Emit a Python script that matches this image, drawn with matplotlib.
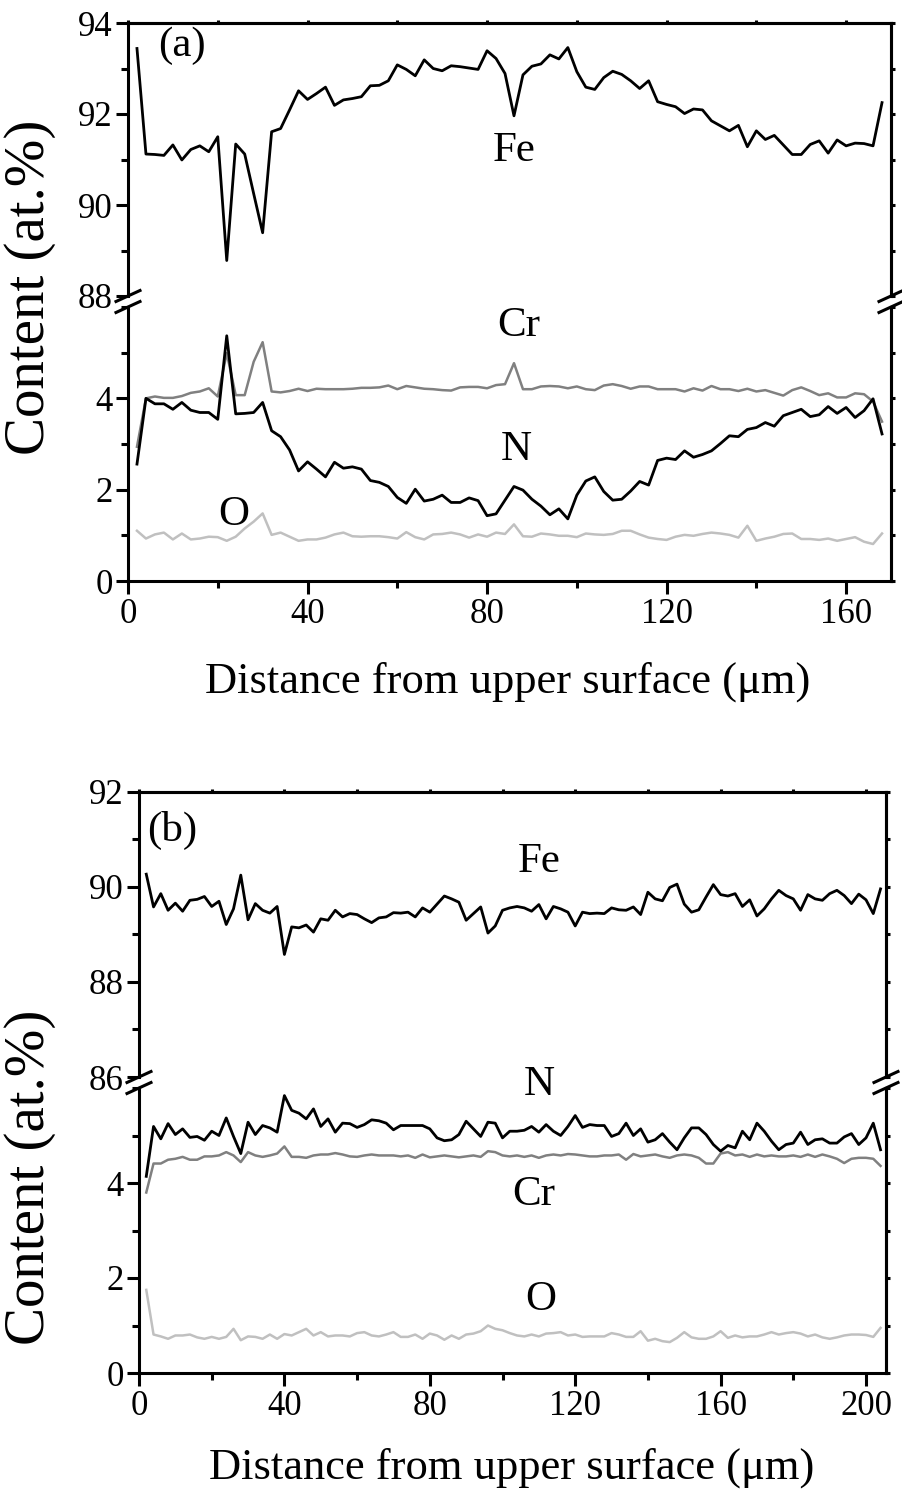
import numpy as np
import matplotlib
matplotlib.use('Agg')
from matplotlib import pyplot as plt
from matplotlib.lines import Line2D
from matplotlib.ticker import MultipleLocator

plt.rcParams['font.family'] = ['Liberation Serif', 'DejaVu Serif']

# ---- panel (a): line scan, 2 um steps ----
dist_a = np.arange(2, 169, 2)
fe_a = [93.44, 91.12, 91.11, 91.09, 91.32, 90.99, 91.22, 91.30, 91.17, 91.50,
        88.78, 91.34, 91.12, 90.25, 89.39, 91.61, 91.68, 92.09, 92.51, 92.32,
        92.45, 92.59, 92.19, 92.31, 92.34, 92.38, 92.62, 92.63, 92.73, 93.08,
        92.98, 92.84, 93.19, 93.00, 92.95, 93.06, 93.04, 93.01, 92.98, 93.39,
        93.22, 92.89, 91.96, 92.86, 93.05, 93.10, 93.30, 93.21, 93.46, 92.93,
        92.59, 92.54, 92.80, 92.94, 92.87, 92.73, 92.56, 92.73, 92.27, 92.21,
        92.16, 92.01, 92.11, 92.09, 91.85, 91.74, 91.63, 91.75, 91.28, 91.63,
        91.44, 91.53, 91.32, 91.11, 91.11, 91.33, 91.41, 91.14, 91.43, 91.30,
        91.36, 91.35, 91.30, 92.25]
cr_a = [2.94, 4.00, 4.04, 4.01, 4.01, 4.05, 4.12, 4.15, 4.22, 4.04,
        4.99, 4.07, 4.07, 4.80, 5.23, 4.15, 4.13, 4.16, 4.21, 4.16,
        4.21, 4.20, 4.20, 4.20, 4.21, 4.23, 4.23, 4.24, 4.28, 4.20,
        4.27, 4.24, 4.21, 4.20, 4.18, 4.17, 4.24, 4.25, 4.25, 4.22,
        4.29, 4.31, 4.77, 4.20, 4.20, 4.26, 4.27, 4.26, 4.22, 4.26,
        4.20, 4.18, 4.28, 4.31, 4.27, 4.21, 4.26, 4.26, 4.20, 4.20,
        4.20, 4.15, 4.22, 4.17, 4.27, 4.20, 4.20, 4.16, 4.21, 4.15,
        4.18, 4.12, 4.06, 4.18, 4.24, 4.16, 4.07, 4.11, 4.02, 4.02,
        4.11, 4.09, 3.93, 3.49]
n_a = [2.56, 4.00, 3.88, 3.88, 3.76, 3.91, 3.74, 3.69, 3.69, 3.54,
       5.37, 3.66, 3.67, 3.69, 3.91, 3.29, 3.16, 2.87, 2.41, 2.61,
       2.45, 2.28, 2.60, 2.47, 2.50, 2.45, 2.20, 2.16, 2.07, 1.83,
       1.70, 2.01, 1.75, 1.79, 1.88, 1.72, 1.72, 1.82, 1.76, 1.43,
       1.47, 1.77, 2.07, 1.99, 1.79, 1.64, 1.45, 1.58, 1.36, 1.88,
       2.19, 2.28, 1.96, 1.77, 1.79, 1.97, 2.18, 2.10, 2.64, 2.69,
       2.66, 2.85, 2.71, 2.77, 2.85, 3.01, 3.18, 3.16, 3.32, 3.36,
       3.47, 3.39, 3.62, 3.69, 3.76, 3.60, 3.64, 3.82, 3.67, 3.80,
       3.58, 3.73, 3.99, 3.22]
o_a = [1.10, 0.93, 1.02, 1.06, 0.91, 1.04, 0.91, 0.93, 0.97, 0.96,
       0.88, 0.97, 1.15, 1.30, 1.48, 1.01, 1.06, 0.97, 0.88, 0.91,
       0.91, 0.95, 1.02, 1.06, 0.98, 0.97, 0.98, 0.98, 0.96, 0.93,
       1.07, 0.96, 0.91, 1.02, 1.03, 1.06, 1.02, 0.95, 1.02, 0.97,
       1.06, 1.03, 1.24, 0.98, 0.97, 1.04, 1.02, 0.99, 0.99, 0.96,
       1.04, 1.02, 1.01, 1.03, 1.10, 1.10, 1.02, 0.95, 0.92, 0.90,
       0.97, 1.01, 0.99, 1.03, 1.06, 1.04, 1.01, 0.95, 1.21, 0.88,
       0.93, 0.97, 1.03, 1.04, 0.92, 0.92, 0.90, 0.93, 0.88, 0.92,
       0.96, 0.86, 0.81, 1.04]

# ---- panel (b) ----
dist_b = np.arange(2, 205, 2)
fe_b = [90.27, 89.58, 89.86, 89.51, 89.66, 89.49, 89.72, 89.74, 89.80, 89.59,
        89.70, 89.21, 89.54, 90.25, 89.31, 89.65, 89.51, 89.45, 89.59, 88.58,
        89.16, 89.14, 89.20, 89.05, 89.33, 89.30, 89.51, 89.37, 89.44, 89.42,
        89.33, 89.25, 89.35, 89.37, 89.46, 89.45, 89.47, 89.37, 89.56, 89.47,
        89.64, 89.81, 89.75, 89.68, 89.30, 89.44, 89.58, 89.03, 89.18,
        89.51, 89.56, 89.59, 89.56, 89.49, 89.63, 89.33, 89.59, 89.54, 89.47,
        89.18, 89.47, 89.44, 89.45, 89.44, 89.56, 89.52, 89.51, 89.58, 89.42,
        89.89, 89.75, 89.71, 89.99, 90.06, 89.64, 89.47, 89.52, 89.79, 90.05,
        89.84, 89.81, 89.86, 89.59, 89.73, 89.39, 89.54, 89.75, 89.93, 89.82,
        89.75, 89.51, 89.84, 89.75, 89.72, 89.86, 89.93, 89.82, 89.65, 89.85,
        89.73, 89.44, 89.96]
n_b = [4.14, 5.19, 4.93, 5.25, 5.02, 5.14, 4.96, 4.98, 4.90, 5.09,
       5.00, 5.37, 4.98, 4.62, 5.28, 5.02, 5.21, 5.16, 5.07, 5.84,
       5.53, 5.47, 5.35, 5.56, 5.19, 5.35, 5.07, 5.26, 5.25, 5.17,
       5.23, 5.33, 5.31, 5.26, 5.12, 5.21, 5.21, 5.21, 5.21, 5.14,
       4.95, 4.89, 4.91, 5.02, 5.30, 5.14, 4.98, 5.28, 5.26,
       4.95, 5.09, 5.09, 5.11, 5.19, 5.07, 5.23, 5.09, 5.00, 5.19,
       5.42, 5.17, 5.23, 5.21, 5.21, 4.98, 5.04, 5.26, 5.00, 5.14,
       4.86, 4.91, 5.04, 4.86, 4.70, 4.95, 5.16, 5.16, 5.02, 4.81,
       4.67, 4.79, 4.74, 5.09, 4.91, 5.26, 5.09, 4.88, 4.70, 4.81,
       4.84, 5.07, 4.81, 4.91, 4.93, 4.84, 4.84, 4.97, 5.04, 4.81,
       4.95, 5.26, 4.70]
cr_b = [3.80, 4.41, 4.41, 4.49, 4.51, 4.55, 4.49, 4.49, 4.56, 4.56,
        4.58, 4.65, 4.58, 4.44, 4.65, 4.58, 4.55, 4.58, 4.62, 4.77,
        4.55, 4.55, 4.53, 4.58, 4.60, 4.60, 4.63, 4.60, 4.56, 4.55,
        4.58, 4.60, 4.58, 4.58, 4.58, 4.56, 4.58, 4.53, 4.60, 4.54,
        4.56, 4.58, 4.56, 4.54, 4.56, 4.58, 4.55, 4.67, 4.65,
        4.58, 4.56, 4.58, 4.55, 4.58, 4.53, 4.58, 4.60, 4.58, 4.61,
        4.60, 4.58, 4.56, 4.56, 4.58, 4.58, 4.60, 4.49, 4.61, 4.56,
        4.58, 4.60, 4.56, 4.53, 4.58, 4.60, 4.58, 4.53, 4.41, 4.41,
        4.62, 4.65, 4.58, 4.60, 4.55, 4.60, 4.56, 4.58, 4.56, 4.56,
        4.58, 4.55, 4.60, 4.55, 4.60, 4.56, 4.51, 4.42, 4.51, 4.53,
        4.53, 4.51, 4.36]
o_b = [1.75, 0.81, 0.77, 0.72, 0.79, 0.79, 0.81, 0.75, 0.72, 0.76,
       0.72, 0.76, 0.93, 0.69, 0.77, 0.76, 0.72, 0.81, 0.72, 0.82,
       0.79, 0.86, 0.93, 0.79, 0.86, 0.77, 0.79, 0.79, 0.77, 0.84,
       0.86, 0.79, 0.77, 0.81, 0.86, 0.76, 0.76, 0.81, 0.72, 0.83,
       0.79, 0.70, 0.79, 0.72, 0.81, 0.83, 0.88, 1.00, 0.93,
       0.90, 0.84, 0.79, 0.77, 0.81, 0.77, 0.83, 0.84, 0.86, 0.79,
       0.81, 0.76, 0.77, 0.77, 0.77, 0.84, 0.81, 0.76, 0.76, 0.88,
       0.68, 0.72, 0.67, 0.65, 0.74, 0.86, 0.75, 0.72, 0.72, 0.77,
       0.88, 0.74, 0.79, 0.75, 0.77, 0.77, 0.81, 0.86, 0.81, 0.84,
       0.86, 0.83, 0.77, 0.81, 0.75, 0.72, 0.75, 0.79, 0.81, 0.81,
       0.80, 0.76, 0.95]

W, H = 902, 1506
LW_SPINE = 2.2
TICK_FS = 25
ELEM_FS = 31


def px_box(left, top, right, bottom):
    # pixel box (from top-left) -> figure fraction rect
    return [left / W, 1 - bottom / H, (right - left) / W, (bottom - top) / H]


def style_axis(ax, top_part):
    for side in ['left', 'right', 'top', 'bottom']:
        ax.spines[side].set_linewidth(LW_SPINE)
    if top_part:
        ax.spines['bottom'].set_visible(False)
        ax.tick_params(axis='x', which='both', bottom=False, labelbottom=False)
    else:
        ax.spines['top'].set_visible(False)
    ax.tick_params(which='major', direction='out', length=9, width=LW_SPINE,
                   labelsize=TICK_FS, pad=3)
    ax.tick_params(which='minor', direction='out', length=5, width=LW_SPINE)
    ax.tick_params(axis='y', right=False, pad=2)
    # small ticks on the right spine
    sec = ax.secondary_yaxis('right')
    sec.yaxis.set_major_locator(MultipleLocator(1))
    sec.tick_params(direction='out', length=3, width=LW_SPINE, labelright=False)
    sec.spines['right'].set_linewidth(LW_SPINE)
    if top_part:
        sect = ax.secondary_xaxis('top')
        sect.xaxis.set_major_locator(MultipleLocator(20))
        sect.tick_params(direction='out', length=2, width=LW_SPINE, labeltop=False)
        sect.spines['top'].set_linewidth(LW_SPINE)


def add_breaks(fig, ax_up, ax_lo):
    for x in [ax_up.get_position().x0, ax_up.get_position().x1]:
        for y in [ax_up.get_position().y0, ax_lo.get_position().y1]:
            dx, dy = 12 / W, 5.5 / H
            fig.add_artist(Line2D([x - dx, x + dx], [y - dy, y + dy], color='black',
                                  lw=2.2, transform=fig.transFigure, clip_on=False))


fig = plt.figure(figsize=(W / 100, H / 100), dpi=100)

# panel (a)
ax_a_up = fig.add_axes(px_box(128, 23, 891, 296))
ax_a_lo = fig.add_axes(px_box(128, 307, 891, 581))
ax_a_up.plot(dist_a, fe_a, color='black', lw=2.0)
ax_a_lo.plot(dist_a, cr_a, color='#808080', lw=1.8)
ax_a_lo.plot(dist_a, n_a, color='black', lw=2.0)
ax_a_lo.plot(dist_a, o_a, color='#c0c0c0', lw=1.8)
for ax in (ax_a_up, ax_a_lo):
    ax.set_xlim(0, 170)
    ax.xaxis.set_major_locator(MultipleLocator(40))
    ax.xaxis.set_minor_locator(MultipleLocator(20))
    ax.yaxis.set_minor_locator(MultipleLocator(1))
ax_a_up.set_ylim(88, 94)
ax_a_up.set_yticks([88, 90, 92, 94])
ax_a_lo.set_ylim(0, 6)
ax_a_lo.set_yticks([0, 2, 4])
style_axis(ax_a_up, True)
style_axis(ax_a_lo, False)
add_breaks(fig, ax_a_up, ax_a_lo)

ax_a_up.text(12, 93.5, '(a)', fontsize=ELEM_FS, ha='center', va='center')
ax_a_up.text(86, 91.2, 'Fe', fontsize=ELEM_FS, ha='center', va='center')
ax_a_lo.text(87, 5.6, 'Cr', fontsize=ELEM_FS, ha='center', va='center')
ax_a_lo.text(86.5, 2.87, 'N', fontsize=ELEM_FS, ha='center', va='center')
ax_a_lo.text(23.5, 1.44, 'O', fontsize=ELEM_FS, ha='center', va='center')

# panel (b)
ax_b_up = fig.add_axes(px_box(139, 792, 886, 1077))
ax_b_lo = fig.add_axes(px_box(139, 1088, 886, 1373))
ax_b_up.plot(dist_b, fe_b, color='black', lw=2.0)
ax_b_lo.plot(dist_b, cr_b, color='#808080', lw=1.8)
ax_b_lo.plot(dist_b, n_b, color='black', lw=2.0)
ax_b_lo.plot(dist_b, o_b, color='#c0c0c0', lw=1.8)
for ax in (ax_b_up, ax_b_lo):
    ax.set_xlim(0, 205.5)
    ax.xaxis.set_major_locator(MultipleLocator(40))
    ax.xaxis.set_minor_locator(MultipleLocator(20))
    ax.yaxis.set_minor_locator(MultipleLocator(1))
ax_b_up.set_ylim(86, 92)
ax_b_up.set_yticks([86, 88, 90, 92])
ax_b_lo.set_ylim(0, 6)
ax_b_lo.set_yticks([0, 2, 4])
style_axis(ax_b_up, True)
style_axis(ax_b_lo, False)
add_breaks(fig, ax_b_up, ax_b_lo)

ax_b_up.text(9, 91.2, '(b)', fontsize=ELEM_FS, ha='center', va='center')
ax_b_up.text(110, 90.53, 'Fe', fontsize=ELEM_FS, ha='center', va='center')
ax_b_lo.text(110, 6.06, 'N', fontsize=ELEM_FS, ha='center', va='center')
ax_b_lo.text(108.5, 3.75, 'Cr', fontsize=ELEM_FS, ha='center', va='center')
ax_b_lo.text(110.5, 1.54, 'O', fontsize=ELEM_FS, ha='center', va='center')

# axis titles
fig.text(30 / W, 1 - 287 / H, 'Content (at.%)', rotation=90, fontsize=41,
         ha='center', va='center')
fig.text(30 / W, 1 - 1177 / H, 'Content (at.%)', rotation=90, fontsize=41,
         ha='center', va='center')
fig.text(508 / W, 1 - 682 / H, 'Distance from upper surface (\u03bcm)', fontsize=32,
         ha='center', va='center')
fig.text(512 / W, 1 - 1468 / H, 'Distance from upper surface (\u03bcm)', fontsize=32,
         ha='center', va='center')

fig.savefig('out.png', dpi=100)
